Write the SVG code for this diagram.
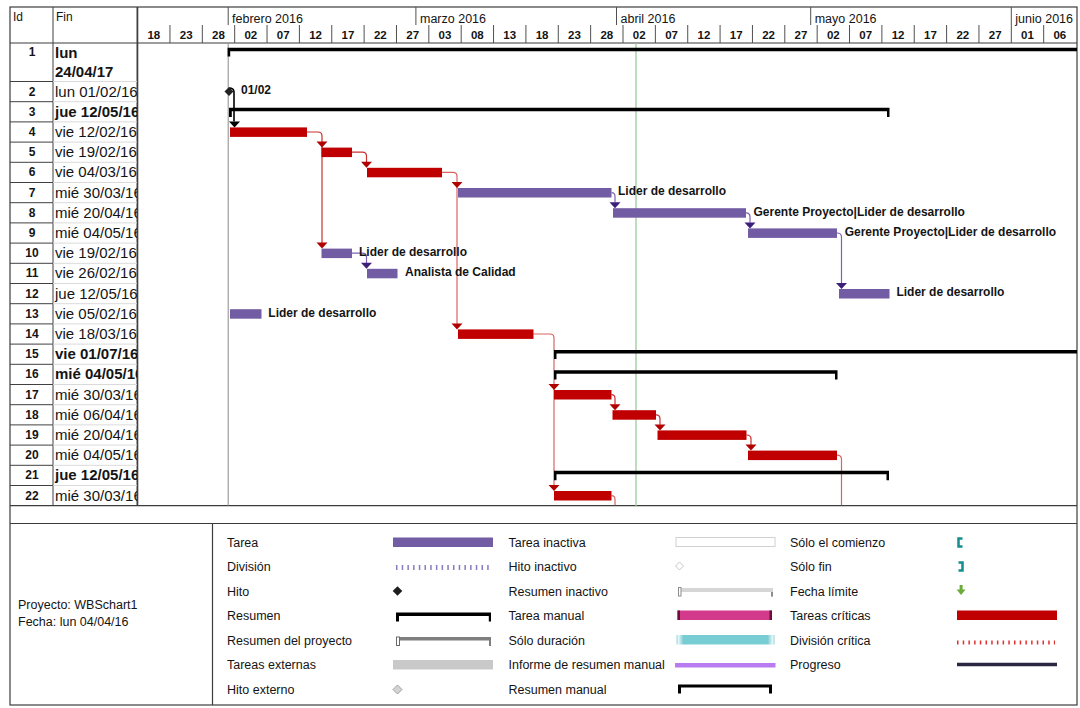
<svg xmlns="http://www.w3.org/2000/svg" width="1080" height="708" viewBox="0 0 1080 708">
<style>
text{font-family:"Liberation Sans",Arial,sans-serif;fill:#141414}
.hd{font-size:12px}
.mon{font-size:12.5px}
.day{font-size:11.5px;font-weight:bold;text-anchor:middle}
.id{font-size:12px;font-weight:bold;text-anchor:middle}
.fin{font-size:15px}
.b{font-weight:bold}
.lbl{font-size:12px;font-weight:bold}
.lg{font-size:12.5px}
.frame{fill:none;stroke:#3c3c3c;stroke-width:1.2}
.idline{stroke:#404040;stroke-width:1}
.finline{stroke:#dadada;stroke-width:1}
.tick{fill:none;stroke:#505050;stroke-width:1}
.task{fill:#725ca4}
.crit{fill:#c00000}
.sum{fill:#000}
.lk-red{fill:none;stroke:#c8302e;stroke-width:1.2}
.lk-pur{fill:none;stroke:#7d62b4;stroke-width:1.2}
.lk-blk{fill:none;stroke:#000;stroke-width:1.6}
.ah-red{fill:#b00000}
.ah-pur{fill:#3d1f7a}
.ah-blk{fill:#000}
</style>
<defs>
  <clipPath id="clipFin"><rect x="53.5" y="43" width="83.5" height="463"/></clipPath>
  <clipPath id="clipChart"><rect x="137.8" y="43.5" width="939.2" height="462"/></clipPath>
  <path id="ah" d="M-5.5,-6 H5.5 L0,0 Z"/>
  <linearGradient id="durGrad" x1="0" x2="1" y1="0" y2="0">
    <stop offset="0" stop-color="#8fd6dc"/>
    <stop offset="0.02" stop-color="#e6f6f7"/>
    <stop offset="0.07" stop-color="#78ccd4"/>
    <stop offset="0.93" stop-color="#78ccd4"/>
    <stop offset="0.98" stop-color="#e6f6f7"/>
    <stop offset="1" stop-color="#8fd6dc"/>
  </linearGradient>
</defs>

<rect x="0" y="0" width="1080" height="708" fill="#fff"/>

<!-- table grid -->
<g id="grid">
  <rect class="frame" x="10" y="7" width="1067" height="698"/>
  <line x1="10" y1="43" x2="1077" y2="43" stroke="#3c3c3c" stroke-width="1.2"/>
  <line x1="53" y1="7" x2="53" y2="505.7" stroke="#404040" stroke-width="1"/>
  <line x1="137.4" y1="7" x2="137.4" y2="505.7" stroke="#404040" stroke-width="1.8"/>
  <path class="idline" d="M10,81.5 H53 M10,101.7 H53 M10,121.9 H53 M10,142.1 H53 M10,162.3 H53 M10,182.5 H53 M10,202.7 H53 M10,222.9 H53 M10,243.1 H53 M10,263.3 H53 M10,283.5 H53 M10,303.7 H53 M10,323.9 H53 M10,344.1 H53 M10,364.3 H53 M10,384.5 H53 M10,404.7 H53 M10,424.9 H53 M10,445.1 H53 M10,465.3 H53 M10,485.5 H53"/>
  <path class="finline" d="M53,81.5 H137 M53,101.7 H137 M53,121.9 H137 M53,142.1 H137 M53,162.3 H137 M53,182.5 H137 M53,202.7 H137 M53,222.9 H137 M53,243.1 H137 M53,263.3 H137 M53,283.5 H137 M53,303.7 H137 M53,323.9 H137 M53,344.1 H137 M53,364.3 H137 M53,384.5 H137 M53,404.7 H137 M53,424.9 H137 M53,445.1 H137 M53,465.3 H137 M53,485.5 H137"/>
  <line x1="10" y1="505.7" x2="1077" y2="505.7" stroke="#3c3c3c" stroke-width="1.2"/>
  <line x1="10" y1="523.5" x2="1077" y2="523.5" stroke="#3c3c3c" stroke-width="1.2"/>
  <line x1="212.5" y1="523.5" x2="212.5" y2="705" stroke="#3c3c3c" stroke-width="1.2"/>
  <text class="hd" x="13" y="21">Id</text>
  <text class="hd" x="56" y="21">Fin</text>
</g>

<!-- timescale: months and 5-day ticks -->
<g id="timescale">
  <path class="tick" d="M228.2,7 V25 M415.9,7 V25 M616.5,7 V25 M810.7,7 V25 M1011.3,7 V25"/>
  <path class="tick" d="M169.96,25 V43 M202.32,25 V43 M234.68,25 V43 M267.04,25 V43 M299.4,25 V43 M331.76,25 V43 M364.12,25 V43 M396.48,25 V43 M428.84,25 V43 M461.2,25 V43 M493.56,25 V43 M525.92,25 V43 M558.28,25 V43 M590.64,25 V43 M623,25 V43 M655.36,25 V43 M687.72,25 V43 M720.08,25 V43 M752.44,25 V43 M784.8,25 V43 M817.16,25 V43 M849.52,25 V43 M881.88,25 V43 M914.24,25 V43 M946.6,25 V43 M978.96,25 V43 M1011.32,25 V43 M1043.68,25 V43"/>
  <text class="mon" x="232" y="22.5">febrero 2016</text>
  <text class="mon" x="420" y="22.5">marzo 2016</text>
  <text class="mon" x="620.5" y="22.5">abril 2016</text>
  <text class="mon" x="814.7" y="22.5">mayo 2016</text>
  <text class="mon" x="1015.3" y="22.5">junio 2016</text>
  <text class="day" x="153.78" y="39">18</text>
  <text class="day" x="186.14" y="39">23</text>
  <text class="day" x="218.5" y="39">28</text>
  <text class="day" x="250.86" y="39">02</text>
  <text class="day" x="283.22" y="39">07</text>
  <text class="day" x="315.58" y="39">12</text>
  <text class="day" x="347.94" y="39">17</text>
  <text class="day" x="380.3" y="39">22</text>
  <text class="day" x="412.66" y="39">27</text>
  <text class="day" x="445.02" y="39">03</text>
  <text class="day" x="477.38" y="39">08</text>
  <text class="day" x="509.74" y="39">13</text>
  <text class="day" x="542.1" y="39">18</text>
  <text class="day" x="574.46" y="39">23</text>
  <text class="day" x="606.82" y="39">28</text>
  <text class="day" x="639.18" y="39">02</text>
  <text class="day" x="671.54" y="39">07</text>
  <text class="day" x="703.9" y="39">12</text>
  <text class="day" x="736.26" y="39">17</text>
  <text class="day" x="768.62" y="39">22</text>
  <text class="day" x="800.98" y="39">27</text>
  <text class="day" x="833.34" y="39">02</text>
  <text class="day" x="865.7" y="39">07</text>
  <text class="day" x="898.06" y="39">12</text>
  <text class="day" x="930.42" y="39">17</text>
  <text class="day" x="962.78" y="39">22</text>
  <text class="day" x="995.14" y="39">27</text>
  <text class="day" x="1027.5" y="39">01</text>
  <text class="day" x="1059.86" y="39">06</text>
</g>

<!-- project start and status date lines -->
<g id="date-lines">
  <line x1="228.2" y1="43.5" x2="228.2" y2="505.7" stroke="#8c8c8c" stroke-width="1"/>
  <line x1="636" y1="43.5" x2="636" y2="505.7" stroke="#a9d3a5" stroke-width="1.5"/>
</g>

<!-- dependency links -->
<g id="connectors" clip-path="url(#clipChart)">
  <path class="lk-blk" d="M229,88 Q234,88 234,92 V121.5"/>
  <use href="#ah" class="ah-blk" x="234.5" y="127.4"/>

  <path class="lk-red" d="M307,132 H318 Q322,132 322,136 V243"/>
  <use href="#ah" class="ah-red" x="322" y="147.6"/>
  <use href="#ah" class="ah-red" x="322" y="248.6"/>

  <path class="lk-red" d="M352,152.2 H362.5 Q366.5,152.2 366.5,156.2 V162"/>
  <use href="#ah" class="ah-red" x="366.5" y="167.8"/>

  <path class="lk-red" d="M442,172.4 H453 Q457,172.4 457,176.4 V324" stroke-opacity="0.75"/>
  <use href="#ah" class="ah-red" x="457" y="188"/>
  <use href="#ah" class="ah-red" x="457" y="329.4"/>

  <path class="lk-pur" d="M611.5,192.6 Q615,192.6 615,196.5 V202.5"/>
  <use href="#ah" class="ah-pur" x="615" y="208.2"/>

  <path class="lk-pur" d="M746,212.8 Q750,212.8 750,216.8 V222.7"/>
  <use href="#ah" class="ah-pur" x="750" y="228.4"/>

  <path class="lk-pur" d="M837,233 Q841.5,233 841.5,237 V283.5"/>
  <use href="#ah" class="ah-pur" x="841.5" y="289"/>

  <path class="lk-pur" d="M352,253.2 H362.5 Q366.5,253.2 366.5,257.2 V263.2"/>
  <use href="#ah" class="ah-pur" x="366.5" y="268.8"/>

  <path class="lk-red" d="M533.5,334 H550 Q554,334 554,338 V485.5" stroke-opacity="0.75"/>
  <use href="#ah" class="ah-red" x="554" y="390"/>
  <use href="#ah" class="ah-red" x="554" y="491"/>

  <path class="lk-red" d="M611.5,394.6 Q615,394.6 615,398.6 V404.5"/>
  <use href="#ah" class="ah-red" x="615" y="410.2"/>

  <path class="lk-red" d="M656,414.8 Q660,414.8 660,418.8 V424.8"/>
  <use href="#ah" class="ah-red" x="660" y="430.4"/>

  <path class="lk-red" d="M746.5,435 Q751,435 751,439 V445"/>
  <use href="#ah" class="ah-red" x="751" y="450.6"/>

  <path class="lk-red" d="M837,455.2 Q841.5,455.2 841.5,459.2 V506" stroke-opacity="0.75"/>
  <path class="lk-red" d="M611.5,495.6 Q615,495.6 615,499.6 V506" stroke-opacity="0.75"/>
</g>

<!-- tasks -->
<g id="task-1">
  <text class="id" x="32" y="56">1</text>
  <text class="fin b" x="55" y="58" clip-path="url(#clipFin)">lun</text>
  <text class="fin b" x="55" y="77" clip-path="url(#clipFin)">24/04/17</text>
  <path class="sum" clip-path="url(#clipChart)" d="M227.6,47.7 H1080 V51.2 H230.2 V56.5 H227.6 Z"/>
</g>
<g id="task-2">
  <text class="id" x="32" y="95.6">2</text>
  <text class="fin" x="55" y="96.6" clip-path="url(#clipFin)">lun 01/02/16</text>
  <path d="M229,87.1 L233.5,91.6 L229,96.1 L224.5,91.6 Z" fill="#222"/>
  <text class="lbl" x="241" y="94">01/02</text>
</g>
<g id="task-3">
  <text class="id" x="32" y="115.8">3</text>
  <text class="fin b" x="55" y="116.8" clip-path="url(#clipFin)">jue 12/05/16</text>
  <path class="sum" d="M229,107.7 H889.5 V117 H887 V111.2 H231.8 V117 H229 Z"/>
</g>
<g id="task-4">
  <text class="id" x="32" y="136">4</text>
  <text class="fin" x="55" y="137" clip-path="url(#clipFin)">vie 12/02/16</text>
  <rect class="crit" x="230" y="127.4" width="77" height="9.5"/>
</g>
<g id="task-5">
  <text class="id" x="32" y="156.2">5</text>
  <text class="fin" x="55" y="157.2" clip-path="url(#clipFin)">vie 19/02/16</text>
  <rect class="crit" x="321.5" y="147.6" width="30.5" height="9.5"/>
</g>
<g id="task-6">
  <text class="id" x="32" y="176.4">6</text>
  <text class="fin" x="55" y="177.4" clip-path="url(#clipFin)">vie 04/03/16</text>
  <rect class="crit" x="367" y="167.8" width="75" height="9.5"/>
</g>
<g id="task-7">
  <text class="id" x="32" y="196.6">7</text>
  <text class="fin" x="55" y="197.6" clip-path="url(#clipFin)">mié 30/03/16</text>
  <rect class="task" x="458" y="188" width="153.5" height="9.5"/>
  <text class="lbl" x="618" y="195.3">Lider de desarrollo</text>
</g>
<g id="task-8">
  <text class="id" x="32" y="216.8">8</text>
  <text class="fin" x="55" y="217.8" clip-path="url(#clipFin)">mié 20/04/16</text>
  <rect class="task" x="613" y="208.2" width="133" height="9.5"/>
  <text class="lbl" x="753.5" y="215.5">Gerente Proyecto|Lider de desarrollo</text>
</g>
<g id="task-9">
  <text class="id" x="32" y="237">9</text>
  <text class="fin" x="55" y="238" clip-path="url(#clipFin)">mié 04/05/16</text>
  <rect class="task" x="748" y="228.4" width="89" height="9.5"/>
  <text class="lbl" x="844.7" y="235.7">Gerente Proyecto|Lider de desarrollo</text>
</g>
<g id="task-10">
  <text class="id" x="32" y="257.2">10</text>
  <text class="fin" x="55" y="258.2" clip-path="url(#clipFin)">vie 19/02/16</text>
  <rect class="task" x="321.5" y="248.6" width="30.5" height="9.5"/>
  <text class="lbl" x="359" y="255.9">Lider de desarrollo</text>
</g>
<g id="task-11">
  <text class="id" x="32" y="277.4">11</text>
  <text class="fin" x="55" y="278.4" clip-path="url(#clipFin)">vie 26/02/16</text>
  <rect class="task" x="367" y="268.8" width="30.5" height="9.5"/>
  <text class="lbl" x="405" y="276.1">Analista de Calidad</text>
</g>
<g id="task-12">
  <text class="id" x="32" y="297.6">12</text>
  <text class="fin" x="55" y="298.6" clip-path="url(#clipFin)">jue 12/05/16</text>
  <rect class="task" x="839" y="289" width="50.5" height="9.5"/>
  <text class="lbl" x="896.4" y="296.3">Lider de desarrollo</text>
</g>
<g id="task-13">
  <text class="id" x="32" y="317.8">13</text>
  <text class="fin" x="55" y="318.8" clip-path="url(#clipFin)">vie 05/02/16</text>
  <rect class="task" x="230" y="309.2" width="31.5" height="9.5"/>
  <text class="lbl" x="268.3" y="316.5">Lider de desarrollo</text>
</g>
<g id="task-14">
  <text class="id" x="32" y="338">14</text>
  <text class="fin" x="55" y="339" clip-path="url(#clipFin)">vie 18/03/16</text>
  <rect class="crit" x="458" y="329.4" width="75.5" height="9.5"/>
</g>
<g id="task-15">
  <text class="id" x="32" y="358.2">15</text>
  <text class="fin b" x="55" y="359.2" clip-path="url(#clipFin)">vie 01/07/16</text>
  <path class="sum" clip-path="url(#clipChart)" d="M554,350.1 H1080 V353.6 H556.5 V359 H554 Z"/>
</g>
<g id="task-16">
  <text class="id" x="32" y="378.4">16</text>
  <text class="fin b" x="55" y="379.4" clip-path="url(#clipFin)">mié 04/05/16</text>
  <path class="sum" d="M554,370.3 H837.5 V379.4 H835 V373.8 H556.5 V379.4 H554 Z"/>
</g>
<g id="task-17">
  <text class="id" x="32" y="398.6">17</text>
  <text class="fin" x="55" y="399.6" clip-path="url(#clipFin)">mié 30/03/16</text>
  <rect class="crit" x="554" y="390" width="57.5" height="9.5"/>
</g>
<g id="task-18">
  <text class="id" x="32" y="418.8">18</text>
  <text class="fin" x="55" y="419.8" clip-path="url(#clipFin)">mié 06/04/16</text>
  <rect class="crit" x="612.5" y="410.2" width="43.5" height="9.5"/>
</g>
<g id="task-19">
  <text class="id" x="32" y="439">19</text>
  <text class="fin" x="55" y="440" clip-path="url(#clipFin)">mié 20/04/16</text>
  <rect class="crit" x="657.5" y="430.4" width="89" height="9.5"/>
</g>
<g id="task-20">
  <text class="id" x="32" y="459.2">20</text>
  <text class="fin" x="55" y="460.2" clip-path="url(#clipFin)">mié 04/05/16</text>
  <rect class="crit" x="748" y="450.6" width="89" height="9.5"/>
</g>
<g id="task-21">
  <text class="id" x="32" y="479.4">21</text>
  <text class="fin b" x="55" y="480.4" clip-path="url(#clipFin)">jue 12/05/16</text>
  <path class="sum" d="M554,470.8 H889 V480.2 H886.5 V474.3 H556.5 V480.2 H554 Z"/>
</g>
<g id="task-22">
  <text class="id" x="32" y="499.6">22</text>
  <text class="fin" x="55" y="500.6" clip-path="url(#clipFin)">mié 30/03/16</text>
  <rect class="crit" x="554" y="491" width="57.5" height="9.5"/>
</g>

<!-- legend -->
<g id="legend">
  <text class="lg" x="18" y="608.5">Proyecto: WBSchart1</text>
  <text class="lg" x="18" y="625.5">Fecha: lun 04/04/16</text>

  <text class="lg" x="227" y="546.5">Tarea</text>
  <text class="lg" x="227" y="571">División</text>
  <text class="lg" x="227" y="595.5">Hito</text>
  <text class="lg" x="227" y="620">Resumen</text>
  <text class="lg" x="227" y="644.5">Resumen del proyecto</text>
  <text class="lg" x="227" y="669">Tareas externas</text>
  <text class="lg" x="227" y="694">Hito externo</text>

  <rect x="393" y="537.5" width="100" height="9.5" fill="#725ca4"/>
  <line x1="396" y1="567.5" x2="492" y2="567.5" stroke="#8a7cc0" stroke-width="5" stroke-dasharray="1.5 4.2"/>
  <path d="M397.5,586.2 L402.3,591 L397.5,595.8 L392.7,591 Z" fill="#1e1e1e"/>
  <path d="M396,612.5 H491 V621.5 H488.8 V616 H399 V621.5 H396 Z" fill="#000"/>
  <path d="M399,637 H491 V646 H489 V640.5 H399 Z" fill="#7f7f7f"/>
  <rect x="396.5" y="637" width="3" height="8.5" fill="#fff" stroke="#6a6a6a" stroke-width="1"/>
  <rect x="393" y="660" width="100" height="9.5" fill="#c9c9c9"/>
  <path d="M397.5,685 L402,689.5 L397.5,694 L393,689.5 Z" fill="#d4d4d4" stroke="#a0a0a0" stroke-width="1"/>

  <text class="lg" x="508.5" y="546.5">Tarea inactiva</text>
  <text class="lg" x="508.5" y="571">Hito inactivo</text>
  <text class="lg" x="508.5" y="595.5">Resumen inactivo</text>
  <text class="lg" x="508.5" y="620">Tarea manual</text>
  <text class="lg" x="508.5" y="644.5">Sólo duración</text>
  <text class="lg" x="508.5" y="669">Informe de resumen manual</text>
  <text class="lg" x="508.5" y="694">Resumen manual</text>

  <rect x="676" y="537.5" width="99" height="9" fill="#fff" stroke="#d0d0d0" stroke-width="1"/>
  <path d="M679.5,562 L683.5,566 L679.5,570 L675.5,566 Z" fill="#fff" stroke="#c8c8c8" stroke-width="1"/>
  <path d="M681,588 H773 V596.5 H771 V592 H681 Z" fill="#d6d6d6"/>
  <path d="M771,592 V596.5 H773 V592 Z" fill="#8c8c8c"/>
  <rect x="678.5" y="587.5" width="2.5" height="8.5" fill="#fff" stroke="#8c8c8c" stroke-width="1"/>
  <rect x="677.5" y="610.5" width="94.5" height="9.5" fill="#d33a8b"/>
  <rect x="677.5" y="610.5" width="2.5" height="9.5" fill="#6b0f3a"/>
  <rect x="769.5" y="610.5" width="2.5" height="9.5" fill="#6b0f3a"/>
  <rect x="676.5" y="635" width="98" height="9.5" fill="url(#durGrad)"/>
  <rect x="675" y="663" width="100.5" height="4.5" fill="#b87cf0"/>
  <path d="M678,684.5 H772 V693.5 H769 V687.5 H681 V693.5 H678 Z" fill="#000"/>

  <text class="lg" x="790" y="546.5">Sólo el comienzo</text>
  <text class="lg" x="790" y="571">Sólo fin</text>
  <text class="lg" x="790" y="595.5">Fecha límite</text>
  <text class="lg" x="790" y="620">Tareas críticas</text>
  <text class="lg" x="790" y="644.5">División crítica</text>
  <text class="lg" x="790" y="669">Progreso</text>

  <path d="M962.5,538.5 H958.5 V546.5 H962.5" fill="none" stroke="#178c8c" stroke-width="2.5"/>
  <path d="M958.5,562.5 H962.5 V570.5 H958.5" fill="none" stroke="#178c8c" stroke-width="2.5"/>
  <rect x="959.6" y="585" width="3" height="5" fill="#6aac3a"/>
  <path d="M956.6,589.5 H965.6 L961.1,595 Z" fill="#6aac3a"/>
  <rect x="957" y="610.5" width="100" height="9.5" fill="#c00000"/>
  <line x1="957" y1="642.5" x2="1055" y2="642.5" stroke="#e03030" stroke-width="4" stroke-dasharray="1.5 4.2"/>
  <line x1="957" y1="664.5" x2="1057" y2="664.5" stroke="#2a2742" stroke-width="3.5"/>
</g>
</svg>
